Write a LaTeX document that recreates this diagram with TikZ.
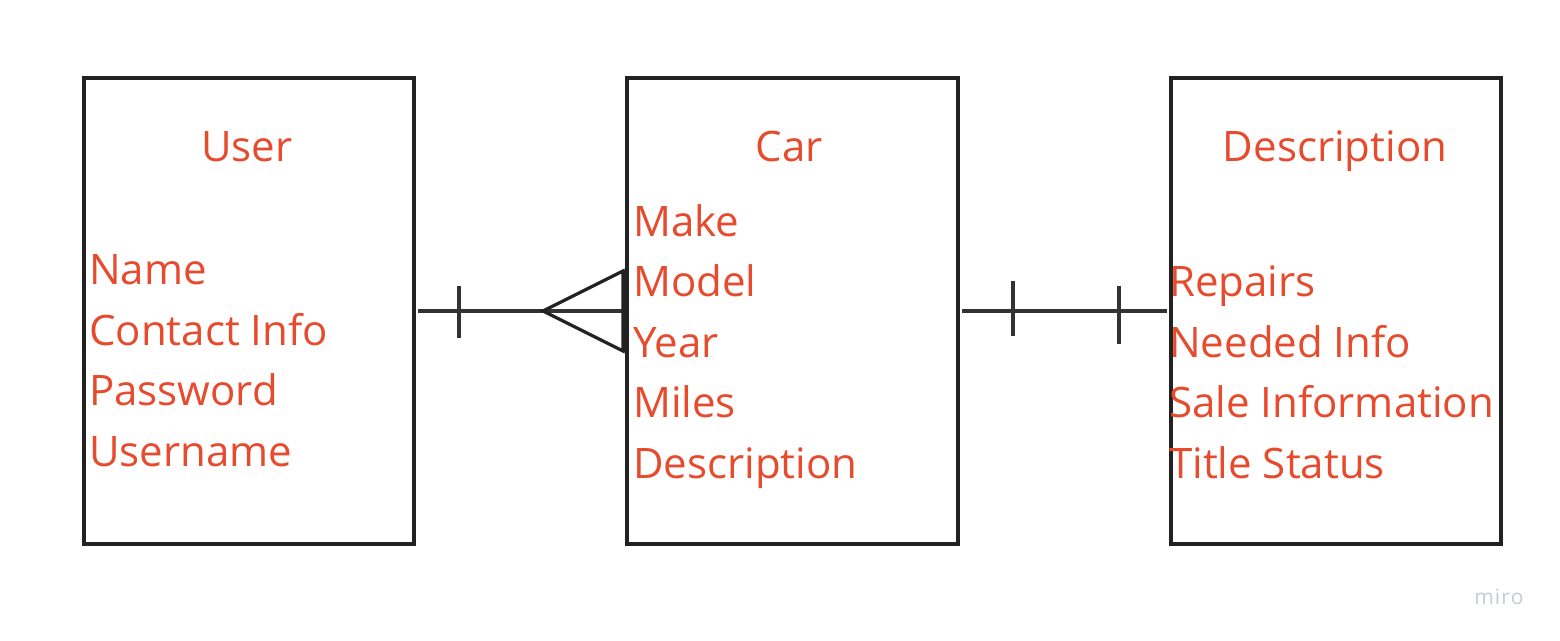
\documentclass[tikz,border=0pt]{standalone}
\usepackage{fontspec}
\setmainfont{Open Sans}
\definecolor{txt}{HTML}{E64B2E}
\definecolor{boxc}{HTML}{222222}
\definecolor{linec}{HTML}{333333}
\definecolor{wm}{HTML}{C8CAD6}
\begin{document}
\begin{tikzpicture}[x=1pt,y=-1pt,
  entity/.style={draw=boxc,line width=3.5pt,rectangle,inner sep=0pt,outer sep=0pt,minimum height=466pt},
  title/.style={text=txt,font=\fontsize{42}{50}\selectfont,anchor=base,inner sep=0pt},
  attr/.style={text=txt,font=\fontsize{42}{50}\selectfont,anchor=base west,inner sep=0pt},
  conn/.style={draw=linec,line width=3.2pt},
  crow/.style={draw=boxc,line width=3.2pt,line join=miter}
]
\fill[white] (0,0) rectangle (1560,640);
\useasboundingbox (0,0) rectangle (1560,640);

\node[entity,minimum width=330pt] (user) at (249,311) {};
\node[entity,minimum width=331pt] (car) at (792.5,311) {};
\node[entity,minimum width=330pt] (desc) at (1336,311) {};

\node[title] (usert) at (247,161) {User};
\node[title] (cart) at (789,161) {Car};
\node[title] (desct) at (1335,161) {Description};

\node[attr] (u1) at (89,284) {Name};
\node[attr] (u2) at (89,345) {Contact Info};
\node[attr] (u3) at (89,405) {Password};
\node[attr] (u4) at (89,466) {Username};

\node[attr] (c1) at (633,236) {Make};
\node[attr] (c2) at (633,296) {Model};
\node[attr] (c3) at (633,357) {Year};
\node[attr] (c4) at (633,417) {Miles};
\node[attr] (c5) at (633,478) {Description};

\node[attr] (d1) at (1169,296) {Repairs};
\node[attr] (d2) at (1169,357) {Needed Info};
\node[attr] (d3) at (1169,417) {Sale Information};
\node[attr] (d4) at (1169,478) {Title Status};

% user -- car (one to many)
\draw[conn] ([xshift=4pt]user.east) -- ([xshift=-3pt]car.west);
\draw[conn] (459,286) -- (459,338);
\draw[crow] (543,311) -- (623,271) -- (623,351) -- cycle;
\draw[draw=boxc,line width=4pt] (623.5,270) -- (623.5,352);

% car -- description (one to one)
\draw[conn] ([xshift=4pt]car.east) -- ([xshift=-4pt]desc.west);
\draw[conn] (1013,281) -- (1013,336);
\draw[conn] (1119,286) -- (1119,344);

\node[text=wm,font=\fontsize{21}{24}\selectfont,anchor=base,inner sep=0pt] (wmk) at (1499,604) {m\kern1pt i\kern1pt r\kern1pt o};
\end{tikzpicture}
\end{document}
